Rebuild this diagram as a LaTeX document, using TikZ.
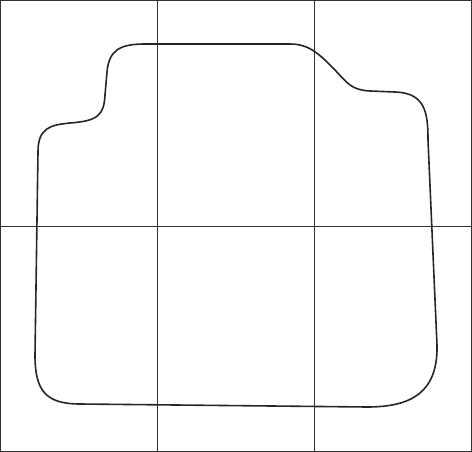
\documentclass[tikz,border=0pt]{standalone}
\usepackage{tikz}

\begin{document}
\begin{tikzpicture}[x=1pt, y=-1pt, grid/.style = {draw, line width=1pt, black!80}, mat/.style = {draw, line width=1.6pt, black!85, line join=round}]
\useasboundingbox (0,0) rectangle (472,452);
\draw[grid] (0.6,0.6) rectangle (471.4,451.4);
\draw[grid] (157.3,0) -- (157.3,452);
\draw[grid] (314.7,0) -- (314.7,452);
\draw[grid] (0,226) -- (472,226);
\draw[mat] (145,44) -- (290,44)
  .. controls (310,44) and (320,55) .. (335,70)
  .. controls (348,84) and (352,90) .. (370,91)
  -- (395,92)
  .. controls (425,93) and (428,112) .. (428,140)
  -- (437,345)
  .. controls (438,392) and (412,407) .. (367,407)
  -- (80,404)
  .. controls (45,404) and (35,390) .. (35,355)
  -- (38,152)
  .. controls (38,128) and (50,125) .. (70,123)
  .. controls (98,121) and (104,115) .. (105,95)
  -- (107,72)
  .. controls (109,50) and (120,44) .. (145,44) -- cycle;
\end{tikzpicture}
\end{document}
